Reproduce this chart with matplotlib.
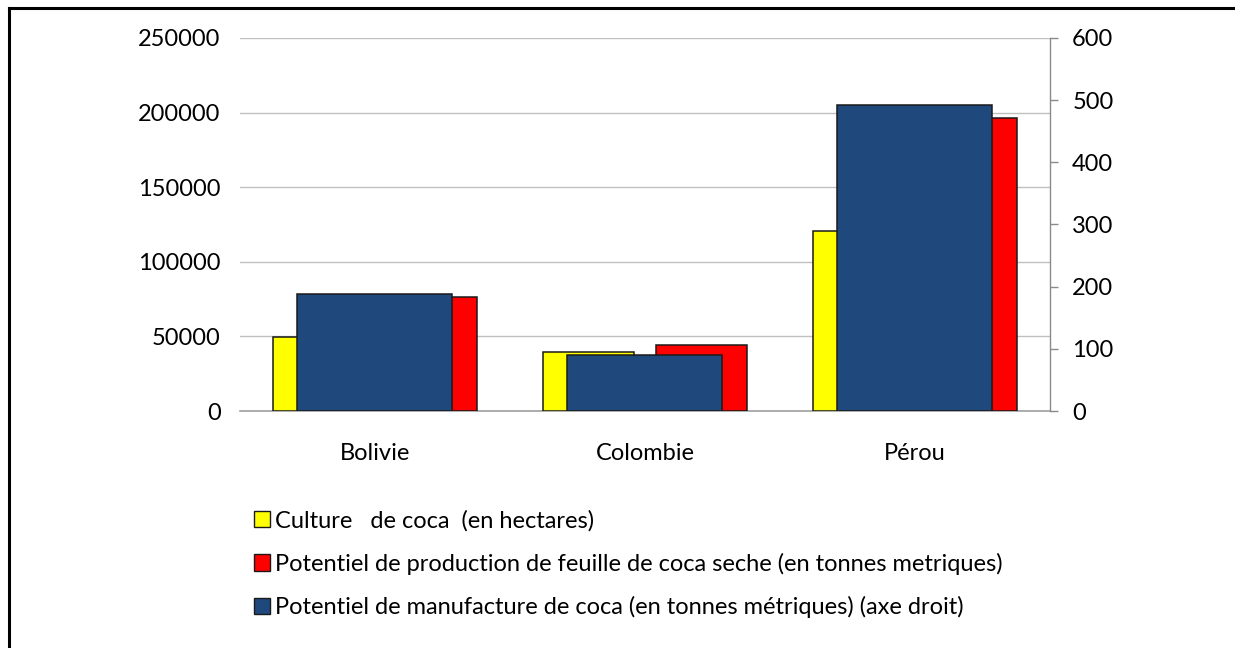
import matplotlib.pyplot as plt
from matplotlib.patches import Patch
from matplotlib.lines import Line2D
import numpy as np

plt.rcParams['font.family'] = ['Lato', 'DejaVu Sans']

# data
categories = ['Bolivie', 'Colombie', 'Pérou']
culture = [49800, 39300, 120800]          # hectares (left axis)
production = [76600, 44400, 196200]       # tonnes (left axis)
manufacture = [188, 90, 492]              # tonnes (right axis)

labels = ['Culture   de coca  (en hectares)',
          'Potentiel de production de feuille de coca seche (en tonnes metriques)',
          'Potentiel de manufacture de coca (en tonnes métriques) (axe droit)']
colors = ['#FFFF00', '#FF0000', '#1F497D']

fig = plt.figure(figsize=(12.35, 6.48), dpi=100)
ax1 = fig.add_axes([0.1943, 0.3657, 0.8502 - 0.1943, 0.9414 - 0.3657])
ax2 = ax1.twinx()

x = np.arange(len(categories))
w = 0.337
off = 0.209
edge = '#1a1a1a'

ax1.bar(x - off, culture, w, color=colors[0], edgecolor=edge, linewidth=1.1, zorder=3)
ax1.bar(x + off, production, w, color=colors[1], edgecolor=edge, linewidth=1.1, zorder=3)
ax2.bar(x, manufacture, 0.574, color=colors[2], edgecolor=edge, linewidth=1.1, zorder=3)

ax1.set_xlim(-0.5, 2.5)
ax1.set_ylim(0, 250000)
ax2.set_ylim(0, 600)
ax1.set_yticks(np.arange(0, 250001, 50000))
ax2.set_yticks(np.arange(0, 601, 100))

ax1.grid(axis='y', color='#c0c0c0', linewidth=1.0, zorder=0)
ax1.set_axisbelow(True)

for a in (ax1, ax2):
    for s in ('top', 'left', 'right'):
        a.spines[s].set_visible(False)
ax1.spines['bottom'].set_color('#a0a0a0')
ax1.spines['bottom'].set_linewidth(1.2)
ax2.spines['bottom'].set_visible(False)
ax2.spines['right'].set_visible(True)
ax2.spines['right'].set_color('#8a8a8a')
ax2.spines['right'].set_linewidth(1.0)

ax1.set_xticks(x)
ax1.set_xticklabels(categories)
ax1.tick_params(axis='x', length=0, pad=23, labelsize=17)
ax1.tick_params(axis='y', length=0, pad=14, labelsize=17)
ax2.tick_params(axis='y', length=6, width=1.0, color='#8a8a8a', pad=10, labelsize=17)

handles = [Patch(facecolor=c, edgecolor=edge, linewidth=1.0) for c in colors]
fig.legend(handles, labels, loc='upper left', bbox_to_anchor=(0.198, 0.228),
           frameon=False, fontsize=17, handlelength=0.68, handleheight=0.68,
           handletextpad=0.2, labelspacing=0.91, borderaxespad=0)

# outer frame of the original export (top and left edges only)
fig.add_artist(Line2D([9 / 1235, 9 / 1235], [0, 1 - 8 / 648], color='black', linewidth=2.2,
                      transform=fig.transFigure))
fig.add_artist(Line2D([9 / 1235, 1], [1 - 8 / 648, 1 - 8 / 648], color='black', linewidth=2.2,
                      transform=fig.transFigure))

fig.savefig('out.png', dpi=100)
